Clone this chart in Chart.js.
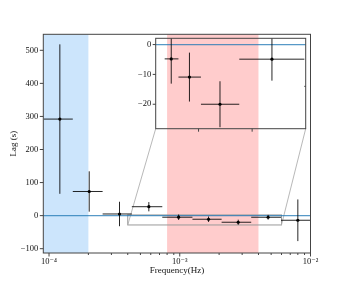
<!DOCTYPE html>
<html><head><meta charset="utf-8">
<script src="https://cdn.jsdelivr.net/npm/chart.js@4.4.0/dist/chart.umd.min.js"></script>
<style>
html,body{margin:0;padding:0;background:#fff;}
#wrap{position:relative;width:345px;height:285px;}
canvas{position:absolute;left:0;top:0;}
</style>
</head><body>
<div id="wrap"><canvas id="main" width="345" height="285"></canvas><canvas id="inset" width="345" height="285"></canvas></div>
<script>
// ---- data ----
const freq   = [1.21e-4, 2.03e-4, 3.46e-4, 5.8e-4, 9.8e-4, 1.66e-3, 2.8e-3, 4.74e-3, 8.0e-3];
const freqLo = [9.1e-5, 1.52e-4, 2.57e-4, 4.3e-4, 7.35e-4, 1.25e-3, 2.09e-3, 3.52e-3, 5.95e-3];
const freqHi = [1.52e-4, 2.57e-4, 4.3e-4, 7.35e-4, 1.25e-3, 2.09e-3, 3.52e-3, 5.95e-3, 1.06e-2];
const lag    = [292, 73, 5, 27, -4.8, -10.9, -20, -4.9, -14];
const lagErr = [226, 61, 37, 14, 8.3, 8.2, 7.7, 7.2, 63];

const xTickValues = [1e-4, 1e-3, 1e-2];
const xTickLabels = ['10\u207B\u2074', '10\u207B\u00B3', '10\u207B\u00B2'];
const xMinorValues = [2e-4,3e-4,4e-4,5e-4,6e-4,7e-4,8e-4,9e-4,2e-3,3e-3,4e-3,5e-3,6e-3,7e-3,8e-3,9e-3];
const yTickValues = [-100, 0, 100, 200, 300, 400, 500];
const yTickLabels = ['\u2212100', '0', '100', '200', '300', '400', '500'];
const insetYTicks = [-20, -10, 0];
const insetYLabels = ['\u221220', '\u221210', '0'];
const insetXTicks = [2e-3, 4e-3];

const xRange = [9.04e-5, 1e-2];
const yRange = [-113, 548.4];
const insetXRange = [4e-4, 6e-3];
const insetYRange = [-28.2, 2.1];
const blueBand = [1e-5, 2e-4];
const redBand  = [8e-4, 4e-3];

// ---- styles / layout ----
const FONT = "'Liberation Serif', 'DejaVu Serif', serif";
const MAIN_AREA = {left: 43.3, right: 310.5, top: 34.3, bottom: 253};
const INSET_AREA = {left: 155.7, right: 305.7, top: 38.3, bottom: 128.7};
const W = 345, H = 285;
const SPINE = '#444';
const ZERO_LINE = 'rgba(31,119,180,0.75)';

function clipArea(ctx, a){ ctx.beginPath(); ctx.rect(a.left, a.top, a.right-a.left, a.bottom-a.top); ctx.clip(); }

function drawErrorBars(chart){
  const {ctx, chartArea:a, scales:{x, y}} = chart;
  ctx.save(); clipArea(ctx, a);
  ctx.strokeStyle = 'rgba(0,0,0,0.85)'; ctx.lineWidth = 1;
  for (let i = 0; i < freq.length; i++){
    const px = x.getPixelForValue(freq[i]);
    const py = y.getPixelForValue(lag[i]);
    ctx.beginPath();
    ctx.moveTo(x.getPixelForValue(freqLo[i]), py);
    ctx.lineTo(x.getPixelForValue(freqHi[i]), py);
    ctx.moveTo(px, y.getPixelForValue(lag[i] + lagErr[i]));
    ctx.lineTo(px, y.getPixelForValue(lag[i] - lagErr[i]));
    ctx.stroke();
  }
  ctx.restore();
}
function drawZeroLine(chart){
  const {ctx, chartArea:a, scales:{y}} = chart;
  const py = y.getPixelForValue(0);
  ctx.save(); ctx.strokeStyle = ZERO_LINE; ctx.lineWidth = 1.3;
  ctx.beginPath(); ctx.moveTo(a.left, py); ctx.lineTo(a.right, py); ctx.stroke(); ctx.restore();
}
function drawFrame(chart){
  const {ctx, chartArea:a} = chart;
  ctx.save(); ctx.strokeStyle = SPINE; ctx.lineWidth = 1;
  ctx.strokeRect(a.left, a.top, a.right-a.left, a.bottom-a.top); ctx.restore();
}

const mainPlugin = {
  id: 'mainDeco',
  beforeDatasetsDraw(chart){
    const {ctx, chartArea:a, scales:{x, y}} = chart;
    ctx.save(); clipArea(ctx, a);
    ctx.fillStyle = 'rgb(204,229,252)';
    let x0 = x.getPixelForValue(Math.max(blueBand[0], xRange[0])), x1 = x.getPixelForValue(blueBand[1]);
    ctx.fillRect(x0, a.top, x1-x0, a.bottom-a.top);
    ctx.fillStyle = 'rgb(255,204,204)';
    x0 = x.getPixelForValue(redBand[0]); x1 = x.getPixelForValue(redBand[1]);
    ctx.fillRect(x0, a.top, x1-x0, a.bottom-a.top);
    ctx.restore();
    // zoom box
    const bx0 = x.getPixelForValue(insetXRange[0]), bx1 = x.getPixelForValue(insetXRange[1]);
    const by0 = y.getPixelForValue(insetYRange[1]), by1 = y.getPixelForValue(insetYRange[0]);
    ctx.save(); ctx.strokeStyle = '#9a9a9a'; ctx.lineWidth = 1;
    ctx.strokeRect(bx0, by0, bx1-bx0, by1-by0);
    ctx.strokeStyle = '#b0b0b0'; ctx.lineWidth = 0.9;
    ctx.beginPath();
    ctx.moveTo(INSET_AREA.left, INSET_AREA.bottom); ctx.lineTo(bx0, by1);
    ctx.moveTo(INSET_AREA.right, INSET_AREA.bottom); ctx.lineTo(bx1, by1);
    ctx.stroke(); ctx.restore();
    drawZeroLine(chart);
    drawErrorBars(chart);
  },
  afterDraw(chart){
    const {ctx, chartArea:a, scales:{x, y}} = chart;
    drawFrame(chart);
    ctx.save(); ctx.strokeStyle = SPINE; ctx.lineWidth = 1;
    ctx.beginPath();
    xTickValues.forEach(v => { const p = x.getPixelForValue(v); ctx.moveTo(p, a.bottom); ctx.lineTo(p, a.bottom+3.5); });
    xMinorValues.forEach(v => { const p = x.getPixelForValue(v); ctx.moveTo(p, a.bottom); ctx.lineTo(p, a.bottom+2); });
    yTickValues.forEach(v => { const p = y.getPixelForValue(v); ctx.moveTo(a.left, p); ctx.lineTo(a.left-3.5, p); });
    ctx.stroke(); ctx.restore();
  }
};

const insetPlugin = {
  id: 'insetDeco',
  beforeDatasetsDraw(chart){ drawZeroLine(chart); drawErrorBars(chart); },
  afterDraw(chart){
    const {ctx, chartArea:a, scales:{x, y}} = chart;
    drawFrame(chart);
    ctx.save(); ctx.strokeStyle = SPINE; ctx.lineWidth = 1;
    ctx.beginPath();
    insetXTicks.forEach(v => { const p = x.getPixelForValue(v); ctx.moveTo(p, a.bottom); ctx.lineTo(p, a.bottom+3); });
    insetYTicks.forEach(v => { const p = y.getPixelForValue(v); ctx.moveTo(a.left, p); ctx.lineTo(a.left-3, p); });
    ctx.stroke(); ctx.restore();
  }
};

const points = freq.map((f, i) => ({x: f, y: lag[i]}));
const tickFont = {family: FONT, size: 8.5};
const titleFont = {family: FONT, size: 9};
const noGrid = {display: false, drawTicks: false, tickLength: 0};

new Chart(document.getElementById('main'), {
  type: 'scatter',
  data: {datasets: [{data: points, backgroundColor: '#000', borderColor: '#000', pointRadius: 1.6, pointStyle: 'circle', borderWidth: 0}]},
  options: {
    responsive: false, animation: false, devicePixelRatio: 1,
    layout: {padding: {left: 0, top: MAIN_AREA.top, right: W - MAIN_AREA.right, bottom: 0}},
    plugins: {legend: {display: false}, tooltip: {enabled: false}},
    scales: {
      x: {
        type: 'logarithmic', min: xRange[0], max: xRange[1],
        afterBuildTicks: s => { s.ticks = xTickValues.map(v => ({value: v})); },
        afterFit: s => { s.height = H - MAIN_AREA.bottom; },
        ticks: {callback: (v, i) => xTickLabels[i], font: tickFont, color: '#111', padding: 4, maxRotation: 0, autoSkip: false},
        grid: noGrid, border: {display: false},
        title: {display: true, text: 'Frequency(Hz)', font: titleFont, color: '#111', padding: {top: 0, bottom: 9.3}}
      },
      y: {
        type: 'linear', min: yRange[0], max: yRange[1],
        afterBuildTicks: s => { s.ticks = yTickValues.map(v => ({value: v})); },
        afterFit: s => { s.width = MAIN_AREA.left; },
        ticks: {callback: (v, i) => yTickLabels[i], font: tickFont, color: '#111', padding: 5, autoSkip: false},
        grid: noGrid, border: {display: false},
        title: {display: true, text: 'Lag (s)', font: titleFont, color: '#111', padding: {top: 7.8, bottom: 0}}
      }
    }
  },
  plugins: [mainPlugin]
});

new Chart(document.getElementById('inset'), {
  type: 'scatter',
  data: {datasets: [{data: points, backgroundColor: '#000', borderColor: '#000', pointRadius: 1.6, borderWidth: 0, clip: 0}]},
  options: {
    responsive: false, animation: false, devicePixelRatio: 1,
    layout: {padding: {left: 0, top: INSET_AREA.top, right: W - INSET_AREA.right, bottom: H - INSET_AREA.bottom}},
    plugins: {legend: {display: false}, tooltip: {enabled: false}},
    scales: {
      x: {
        type: 'linear', min: insetXRange[0], max: insetXRange[1],
        afterBuildTicks: s => { s.ticks = insetXTicks.map(v => ({value: v})); },
        afterFit: s => { s.height = 0; },
        ticks: {display: false}, grid: noGrid, border: {display: false}
      },
      y: {
        type: 'linear', min: insetYRange[0], max: insetYRange[1],
        afterBuildTicks: s => { s.ticks = insetYTicks.map(v => ({value: v})); },
        afterFit: s => { s.width = INSET_AREA.left; },
        ticks: {callback: (v, i) => insetYLabels[i], font: tickFont, color: '#111', padding: 4.5, autoSkip: false},
        grid: noGrid, border: {display: false}
      }
    }
  },
  plugins: [insetPlugin]
});
</script>
</body></html>
